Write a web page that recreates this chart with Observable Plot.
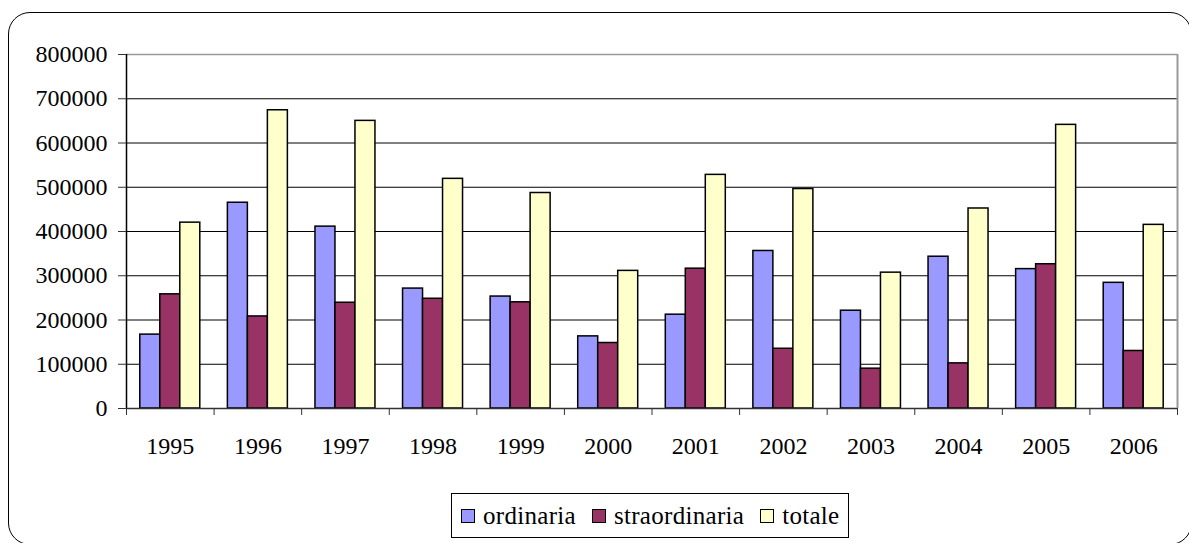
<!DOCTYPE html>
<html><head><meta charset="utf-8">
<script src="https://cdn.jsdelivr.net/npm/d3@7"></script>
<script src="https://cdn.jsdelivr.net/npm/@observablehq/plot@0.6"></script>
<style>
body{margin:0;background:#fff;font-family:"Liberation Serif", serif;}
#wrap{position:relative;width:1189px;height:543px;overflow:hidden;font-family:"Liberation Serif", serif;background:#fff;}
#box{position:absolute;left:8px;top:12px;width:1184px;height:533px;border:1.5px solid #000;border-radius:22px;box-sizing:border-box;}
#chart{position:absolute;left:0;top:0;}
#legend{position:absolute;left:451px;top:493px;width:398px;height:45px;border:1px solid #000;box-sizing:border-box;display:flex;align-items:center;padding-left:9px;font-size:25px;letter-spacing:0.3px;background:#fff;font-family:"Liberation Serif", serif;}
.item{display:flex;align-items:center;margin-right:16px;}
.sw{display:inline-block;width:14px;height:14px;border:1.5px solid #000;box-sizing:border-box;margin-right:8px;}
</style>
</head><body>
<div id="wrap">
  <div id="box"></div>
  <div id="chart"></div>
  <div id="legend"></div>
</div>
<script>
const years = ["1995","1996","1997","1998","1999","2000","2001","2002","2003","2004","2005","2006"];
const seriesNames = ["ordinaria","straordinaria","totale"];
const seriesColors = ["#9999FF","#993366","#FFFFCC"];
const ordinaria = [167000,465000,411000,271000,253000,163000,212000,356000,221000,343000,315000,284000];
const straordinaria = [258000,208000,239000,248000,240000,148000,316000,135000,90000,102000,326000,130000];
const totale = [420000,674000,650000,519000,487000,311000,528000,496000,307000,452000,641000,415000];
const yTicks = [0,100000,200000,300000,400000,500000,600000,700000,800000];

const values = [ordinaria, straordinaria, totale];
const rows = seriesNames.map((s, i) => years.map((y, j) => ({year: y, series: s, value: values[i][j]})));

const W = 1189, H = 470, mL = 126, mR = 12, mT = 54, mB = 62;
const padIn = 0.315, padOut = 0.1575;
const step = (W - mL - mR) / (years.length - padIn + 2 * padOut);
const bw = step * (1 - padIn);
const third = bw / 3;
const FONT = "Liberation Serif, serif";

const marks = [
  Plot.gridY(yTicks.filter(v => v > 0 && v < 800000), {stroke: "#000", strokeOpacity: 1, strokeWidth: 1}),
  Plot.ruleY([800000], {stroke: "#999", strokeWidth: 1.5}),
  ...rows.map((r, i) => Plot.barY(r, {
    x: "year", y: "value", fill: seriesColors[i], stroke: "#000", strokeWidth: 1.5,
    insetLeft: i * third, insetRight: (2 - i) * third
  })),
  Plot.ruleY([0], {stroke: "#333", strokeWidth: 1.5}),
  Plot.ruleX(["1995"], {dx: -step / 2, stroke: "#000", strokeWidth: 1.5}),
  Plot.ruleX(["2006"], {dx: step / 2, stroke: "#999", strokeWidth: 2}),
  Plot.axisY({ticks: yTicks, tickSize: 8, tickPadding: 11, tickFormat: d => String(d), label: null, stroke: "#333", fontFamily: FONT, fontSize: 24}),
  Plot.axisX({tickSize: 7, tickFormat: () => "", dx: -step / 2, label: null, stroke: "#333"}),
  Plot.axisX({ticks: ["2006"], tickSize: 7, tickFormat: () => "", dx: step / 2, label: null, stroke: "#333"}),
  Plot.axisX({tickSize: 0, tickPadding: 28, label: null, fontFamily: FONT, fontSize: 24})
];

const chart = Plot.plot({
  width: W, height: H,
  marginLeft: mL, marginRight: mR, marginTop: mT, marginBottom: mB,
  x: {type: "band", domain: years, paddingInner: padIn, paddingOuter: padOut, round: false},
  y: {domain: [0, 800000]},
  style: {fontFamily: FONT, fontSize: "24px", color: "#000", background: "transparent"},
  marks
});
document.getElementById("chart").appendChild(chart);

const legend = document.getElementById("legend");
seriesNames.forEach((s, i) => {
  const it = document.createElement("div");
  it.className = "item";
  const sw = document.createElement("span");
  sw.className = "sw";
  sw.style.background = seriesColors[i];
  const t = document.createElement("span");
  t.textContent = s;
  it.appendChild(sw); it.appendChild(t);
  legend.appendChild(it);
});
</script>
</body></html>
